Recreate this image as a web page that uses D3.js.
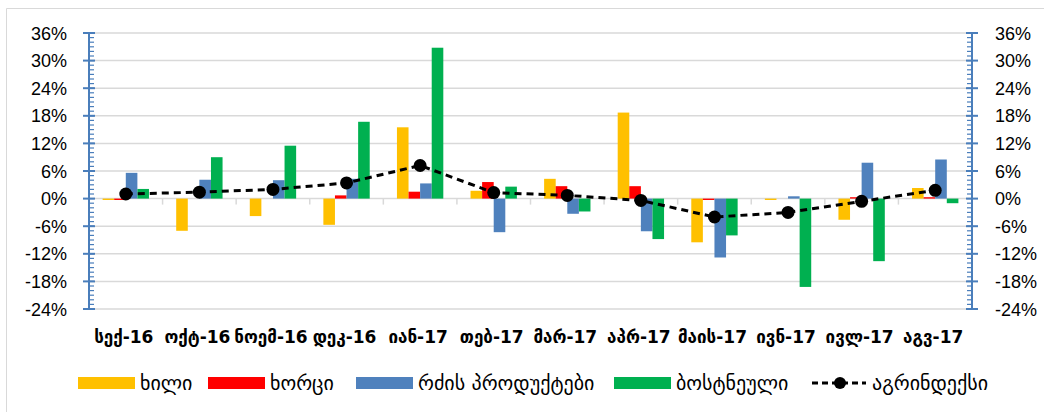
<!DOCTYPE html>
<html>
<head>
<meta charset="utf-8">
<script src="https://cdn.jsdelivr.net/npm/d3@7"></script>
<style>
  body { margin: 0; background: #fff; }
  svg { display: block; }
</style>
</head>
<body>
<svg id="canvas" width="1044" height="412"></svg>
<script>
const months = ["სექ-16", "ოქტ-16", "ნოემ-16", "დეკ-16", "იან-17", "თებ-17",
    "მარ-17", "აპრ-17", "მაის-17", "ივნ-17", "ივლ-17", "აგვ-17"];

const fruit = [-0.3, -7.0, -3.8, -5.7, 15.5, 1.7, 4.3, 18.7, -9.5, -0.3, -4.6, 2.3];
const meat = [-0.3, 0.0, 0.0, 0.7, 1.5, 3.6, 2.7, 2.7, -0.3, 0.0, 0.3, 0.3];
const dairy = [5.6, 4.1, 4.0, 4.3, 3.3, -7.3, -3.3, -7.1, -12.8, 0.5, 7.8, 8.5];
const veg = [2.1, 9.0, 11.5, 16.7, 32.8, 2.6, -2.8, -8.8, -8.0, -19.2, -13.6, -1.0];
const agriIndex = [1.0, 1.4, 2.0, 3.4, 7.2, 1.3, 0.7, -0.4, -4.0, -3.0, -0.6, 1.8];

const yTicks = [-24, -18, -12, -6, 0, 6, 12, 18, 24, 30, 36];

const seriesNames = ["ხილი", "ხორცი", "რძის პროდუქტები", "ბოსტნეული"];
const seriesColors = ["#ffc000", "#ff0000", "#4f81bd", "#00b050"];
const seriesValues = [fruit, meat, dairy, veg];
const indexName = "აგრინდექსი";

const svg = d3.select("#canvas");
const plotLeft = 89, plotRight = 972, plotTop = 33, plotBottom = 309;

const x = d3.scaleBand()
    .domain(months)
    .range([plotLeft, plotRight])
    .paddingInner(0.37)
    .paddingOuter(0.185);

const xSub = d3.scaleBand()
    .domain(d3.range(seriesNames.length))
    .range([0, x.bandwidth()]);

const y = d3.scaleLinear()
    .domain([-24, 36])
    .range([plotBottom, plotTop]);

// chart frame (top and left edges only)
svg.append("path")
    .attr("d", "M6.5,412 V8.5 H1044")
    .attr("fill", "none")
    .attr("stroke", "#d9d9d9")
    .attr("stroke-width", 1);

// gridlines
svg.append("g")
    .selectAll("line")
    .data(yTicks)
    .join("line")
    .attr("x1", plotLeft)
    .attr("x2", plotRight)
    .attr("y1", d => y(d))
    .attr("y2", d => y(d))
    .attr("stroke", "#d9d9d9")
    .attr("stroke-width", 1.5);

// category tick marks on zero line
const step = x.step();
svg.append("g")
    .selectAll("line")
    .data(d3.range(1, months.length))
    .join("line")
    .attr("x1", i => plotLeft + i * step)
    .attr("x2", i => plotLeft + i * step)
    .attr("y1", y(0))
    .attr("y2", y(0) + 6)
    .attr("stroke", "#d9d9d9")
    .attr("stroke-width", 1.5);

// bars
seriesValues.forEach((vals, s) => {
    svg.append("g")
        .attr("fill", seriesColors[s])
        .selectAll("rect")
        .data(vals)
        .join("rect")
        .attr("x", (d, i) => x(months[i]) + xSub(s))
        .attr("width", xSub.bandwidth())
        .attr("y", d => y(Math.max(0, d)))
        .attr("height", d => Math.abs(y(d) - y(0)));
});

// vertical axes
const minorTicks = d3.range(-24, 36.01, 1);
function drawAxis(ax, side) {
    const g = svg.append("g").attr("stroke", "#4a7ebb");
    g.append("line")
        .attr("x1", ax).attr("x2", ax)
        .attr("y1", plotTop).attr("y2", plotBottom)
        .attr("stroke-width", 2);
    g.selectAll(".minor")
        .data(minorTicks)
        .join("line")
        .attr("x1", ax)
        .attr("x2", ax + side * 5)
        .attr("y1", d => y(d))
        .attr("y2", d => y(d))
        .attr("stroke-width", 1.2);
    g.selectAll(".major")
        .data(yTicks)
        .join("line")
        .attr("x1", ax - 6)
        .attr("x2", ax + 6)
        .attr("y1", d => y(d))
        .attr("y2", d => y(d))
        .attr("stroke-width", 2);
}
drawAxis(plotLeft, 1);
drawAxis(plotRight, -1);

const fmt = d => d + "%";
svg.append("g")
    .selectAll("text")
    .data(yTicks)
    .join("text")
    .attr("x", 67)
    .attr("y", d => y(d) + 6.5)
    .attr("text-anchor", "end")
    .attr("font-family", "Liberation Sans, Arial, sans-serif")
    .attr("font-size", 18)
    .attr("fill", "#000")
    .text(fmt);

svg.append("g")
    .selectAll("text")
    .data(yTicks)
    .join("text")
    .attr("x", 995)
    .attr("y", d => y(d) + 6.5)
    .attr("text-anchor", "start")
    .attr("font-family", "Liberation Sans, Arial, sans-serif")
    .attr("font-size", 18)
    .attr("fill", "#000")
    .text(fmt);

// category labels
svg.append("g")
    .selectAll("text")
    .data(months)
    .join("text")
    .attr("x", d => x(d) + x.bandwidth() / 2 - 2)
    .attr("y", 343)
    .attr("text-anchor", "middle")
    .attr("font-family", "DejaVu Sans, sans-serif")
    .attr("font-weight", "bold")
    .attr("font-size", 17)
    .attr("fill", "#000")
    .text(d => d);

// index line
const line = d3.line()
    .x((d, i) => x(months[i]) + x.bandwidth() / 2)
    .y(d => y(d));

svg.append("path")
    .datum(agriIndex)
    .attr("d", line)
    .attr("fill", "none")
    .attr("stroke", "#000")
    .attr("stroke-width", 3)
    .attr("stroke-dasharray", "7,5");

svg.append("g")
    .selectAll("circle")
    .data(agriIndex)
    .join("circle")
    .attr("cx", (d, i) => x(months[i]) + x.bandwidth() / 2)
    .attr("cy", d => y(d))
    .attr("r", 6.5)
    .attr("fill", "#000");

// legend
const legendX = [78, 208, 356, 614];
const legend = svg.append("g")
    .attr("font-family", "DejaVu Sans, sans-serif")
    .attr("font-size", 20)
    .attr("fill", "#000");

seriesNames.forEach((name, s) => {
    legend.append("rect")
        .attr("x", legendX[s])
        .attr("y", 377)
        .attr("width", 57)
        .attr("height", 12)
        .attr("fill", seriesColors[s]);
    legend.append("text")
        .attr("x", legendX[s] + 62)
        .attr("y", 390)
        .text(name);
});

legend.append("line")
    .attr("x1", 812).attr("x2", 866)
    .attr("y1", 383).attr("y2", 383)
    .attr("stroke", "#000")
    .attr("stroke-width", 3)
    .attr("stroke-dasharray", "6,4");
legend.append("circle")
    .attr("cx", 840)
    .attr("cy", 383)
    .attr("r", 6)
    .attr("fill", "#000");
legend.append("text")
    .attr("x", 872)
    .attr("y", 390)
    .text(indexName);
</script>
</body>
</html>
